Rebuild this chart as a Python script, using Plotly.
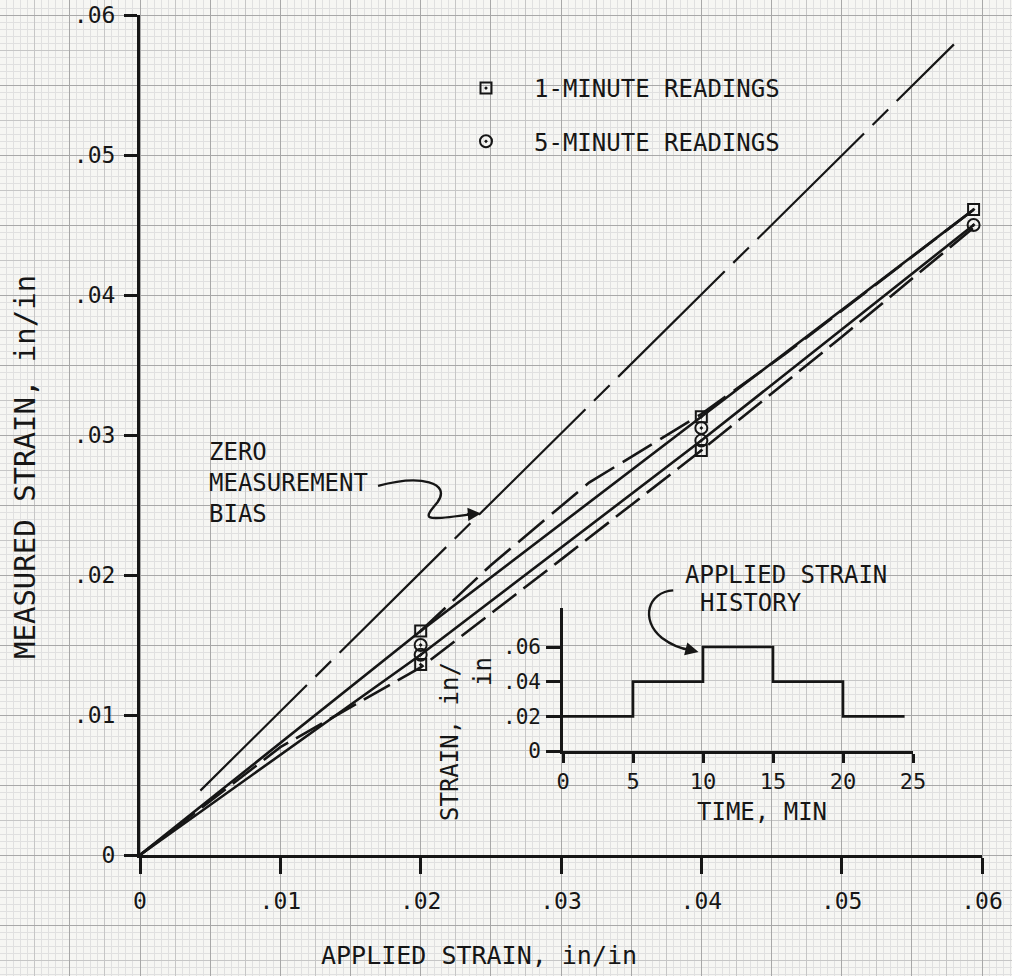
import plotly.graph_objects as go

W, H = 1012, 976
INK = "#161616"
FONT = "DejaVu Sans Mono"

# main chart: applied vs measured strain (in/in)
tick_vals = [0, 0.01, 0.02, 0.03, 0.04, 0.05, 0.06]
tick_text = ["0", ".01", ".02", ".03", ".04", ".05", ".06"]

one_min_x = [0.02, 0.02, 0.04, 0.04, 0.0594]
one_min_y = [0.0160, 0.0136, 0.0313, 0.0289, 0.0461]
five_min_x = [0.02, 0.02, 0.04, 0.04, 0.0594]
five_min_y = [0.0150, 0.0143, 0.0305, 0.0296, 0.0450]

load_x = [0, 0.02, 0.04, 0.0594]
load_y = [0, 0.0160, 0.0313, 0.0461]
unload_x = [0.0594, 0.04, 0.02, 0]
unload_y = [0.0450, 0.0296, 0.0143, 0]
upper_dash_x = [0.02, 0.025, 0.032, 0.04, 0.046, 0.0556, 0.0594]
upper_dash_y = [0.0160, 0.0207, 0.0266, 0.0315, 0.0358, 0.0432, 0.0461]
lower_dash_x = [0, 0.01, 0.02, 0.03, 0.04, 0.05, 0.0594]
lower_dash_y = [0, 0.0077, 0.0134, 0.0211, 0.0289, 0.0370, 0.0448]
bias_x = [0.0043, 0.0580]
bias_y = [0.0046, 0.0579]

# inset: applied strain history
hist_t = [0, 5, 10, 15, 20, 24.4]
hist_strain = [0.02, 0.04, 0.06, 0.04, 0.02, 0.02]
hist_xticks = [0, 5, 10, 15, 20, 25]
hist_yticks = [0, 0.02, 0.04, 0.06]
hist_ytext = ["0", ".02", ".04", ".06"]

# page layout (pixels)
X0, X1 = 140, 982      # x = 0 and x = .06
Y0, Y1 = 855, 15       # y = 0 and y = .06
sx = (X1 - X0) / 0.06
sy = (Y0 - Y1) / 0.06
grid_xr = [-X0 / sx, (W - X0) / sx]
grid_yr = [-(H - Y0) / sy, Y0 / sy]

fig = go.Figure()

# empty traces so the graph-paper subplots exist
fig.add_trace(go.Scatter(x=[], y=[], xaxis="x", yaxis="y", showlegend=False))
fig.add_trace(go.Scatter(x=[], y=[], xaxis="x2", yaxis="y2", showlegend=False))

line_style = dict(color=INK, width=2.6)
fig.add_trace(go.Scatter(x=bias_x, y=bias_y, mode="lines", xaxis="x3", yaxis="y3",
                         line=dict(color=INK, width=2.2, dash="150px,12px,22px,12px"),
                         showlegend=False, hoverinfo="skip"))
fig.add_trace(go.Scatter(x=load_x, y=load_y, mode="lines", xaxis="x3", yaxis="y3",
                         line=line_style, showlegend=False))
fig.add_trace(go.Scatter(x=unload_x, y=unload_y, mode="lines", xaxis="x3", yaxis="y3",
                         line=line_style, showlegend=False))
fig.add_trace(go.Scatter(x=upper_dash_x, y=upper_dash_y, mode="lines", xaxis="x3", yaxis="y3",
                         line=dict(color=INK, width=2.6, dash="34px,10px"), showlegend=False))
fig.add_trace(go.Scatter(x=lower_dash_x, y=lower_dash_y, mode="lines", xaxis="x3", yaxis="y3",
                         line=dict(color=INK, width=2.6, dash="30px,9px"), showlegend=False))

fig.add_trace(go.Scatter(
    x=one_min_x, y=one_min_y, mode="markers", name="1-MINUTE READINGS",
    xaxis="x3", yaxis="y3", legendgroup="a",
    marker=dict(symbol="square-open-dot", size=11, color=INK, line=dict(width=2, color=INK)),
))
fig.add_trace(go.Scatter(
    x=five_min_x, y=five_min_y, mode="markers", name="5-MINUTE READINGS",
    xaxis="x3", yaxis="y3", legendgroup="b",
    marker=dict(symbol="circle-open-dot", size=12, color=INK, line=dict(width=2, color=INK)),
))

fig.add_trace(go.Scatter(x=hist_t, y=hist_strain, mode="lines", line_shape="hv",
                         xaxis="x4", yaxis="y4", line=dict(color=INK, width=2.6),
                         showlegend=False))

grid_common = dict(domain=[0, 1], showticklabels=False, zeroline=False, ticks="",
                   showline=False, fixedrange=True, tick0=0, automargin=False)

tickfont = dict(family=FONT, size=23, color=INK)
axis_common = dict(showgrid=False, zeroline=False, showline=True, linecolor=INK,
                   ticks="outside", tickcolor=INK, tickmode="array", automargin=False)

fig.update_layout(
    width=W, height=H,
    margin=dict(l=0, r=0, t=0, b=0, pad=0, autoexpand=False),
    paper_bgcolor="#f6f6f3",
    plot_bgcolor="rgba(0,0,0,0)",
    font=dict(family=FONT, color=INK),
    xaxis=dict(**grid_common, anchor="y", range=grid_xr, dtick=0.0025,
               showgrid=True, gridcolor="#c6c6c6", gridwidth=1,
               minor=dict(dtick=0.0005, showgrid=True, gridcolor="#e0e0e0", gridwidth=1)),
    yaxis=dict(**grid_common, anchor="x", range=grid_yr, dtick=0.0025,
               showgrid=True, gridcolor="#c6c6c6", gridwidth=1,
               minor=dict(dtick=0.0005, showgrid=True, gridcolor="#e0e0e0", gridwidth=1)),
    xaxis2=dict(**grid_common, anchor="y2", range=grid_xr, dtick=0.005,
                showgrid=True, gridcolor="#a8a8a8", gridwidth=1),
    yaxis2=dict(**grid_common, anchor="x2", range=grid_yr, dtick=0.005,
                showgrid=True, gridcolor="#a8a8a8", gridwidth=1),
    xaxis3=dict(**axis_common, domain=[X0 / W, X1 / W], anchor="y3", range=[0, 0.06],
                linewidth=3, ticklen=16, tickwidth=3, tickvals=tick_vals, ticktext=tick_text,
                tickfont=tickfont, ticklabelstandoff=7),
    yaxis3=dict(**axis_common, domain=[1 - Y0 / H, 1 - Y1 / H], anchor="x3", range=[0, 0.06],
                linewidth=3, ticklen=13, tickwidth=3, tickvals=tick_vals, ticktext=tick_text,
                tickfont=tickfont, ticklabelstandoff=4),
    xaxis4=dict(**axis_common, domain=[563 / W, 913 / W], anchor="y4", range=[0, 25],
                linewidth=2.6, ticklen=9, tickwidth=2.6, tickvals=hist_xticks,
                tickfont=dict(family=FONT, size=22, color=INK), ticklabelstandoff=0),
    yaxis4=dict(**axis_common, domain=[1 - 751 / H, 1 - 608 / H], anchor="x4", range=[0, 0.0825],
                linewidth=2.6, ticklen=14, tickwidth=2.6, tickvals=hist_yticks, ticktext=hist_ytext,
                tickfont=dict(family=FONT, size=21, color=INK), ticklabelstandoff=1),
    showlegend=True,
    legend=dict(x=438 / W, y=1 - 66 / H, xanchor="left", yanchor="top",
                bgcolor="rgba(0,0,0,0)", font=dict(family=FONT, size=24, color=INK),
                itemwidth=86, tracegroupgap=19),
)

# callout curves, drawn in the main chart's units on the full-page grid axes
fig.add_shape(type="path", xref="x", yref="y", layer="above",
              path="M 0.01696,0.02636 C 0.0200,0.0272 0.0222,0.0266 0.0212,0.0252 "
                   "C 0.0202,0.0240 0.0200,0.0238 0.0236,0.02435",
              line=dict(color=INK, width=2.4))
fig.add_annotation(x=0.0243, y=0.0244, ax=0.0232, ay=0.02432, xref="x", yref="y",
                   axref="x", ayref="y", text="", showarrow=True, arrowhead=2,
                   arrowsize=1.1, arrowwidth=2.4, arrowcolor=INK)
fig.add_shape(type="path", xref="x", yref="y", layer="above",
              path="M 0.0380,0.0189 C 0.0362,0.0188 0.0356,0.0168 0.0372,0.0155 "
                   "C 0.0380,0.0149 0.0388,0.0147 0.0392,0.01465",
              line=dict(color=INK, width=2.4))
fig.add_annotation(x=0.0398, y=0.0145, ax=0.0388, ay=0.01475, xref="x", yref="y",
                   axref="x", ayref="y", text="", showarrow=True, arrowhead=2,
                   arrowsize=1.1, arrowwidth=2.4, arrowcolor=INK)

labels = [
    dict(text="MEASURED STRAIN, in/in", x=25 / W, y=1 - 467 / H, textangle=-90, size=29),
    dict(text="APPLIED STRAIN, in/in", x=479 / W, y=1 - 955 / H, size=25),
    dict(text="ZERO<br>MEASUREMENT<br>BIAS", x=207 / W, y=1 - 483 / H, xanchor="left", align="left"),
    dict(text="APPLIED STRAIN", x=683 / W, y=1 - 575 / H, xanchor="left"),
    dict(text="HISTORY", x=698 / W, y=1 - 603 / H, xanchor="left"),
    dict(text="TIME, MIN", x=762 / W, y=1 - 812 / H),
    dict(text="STRAIN, in/", x=450 / W, y=1 - 742 / H, textangle=-90),
    dict(text="in", x=483 / W, y=1 - 672 / H, textangle=-90),
]
for lab in labels:
    size = lab.pop("size", 24)
    lab.setdefault("xanchor", "center")
    lab.setdefault("yanchor", "middle")
    fig.add_annotation(xref="paper", yref="paper", showarrow=False,
                       font=dict(family=FONT, size=size, color=INK), **lab)

# drop the default page margin so the 1012x976 figure fills the window exactly
fig.write_html("out.html", config={"displayModeBar": False},
               post_script="document.body.style.margin = '0px';")
